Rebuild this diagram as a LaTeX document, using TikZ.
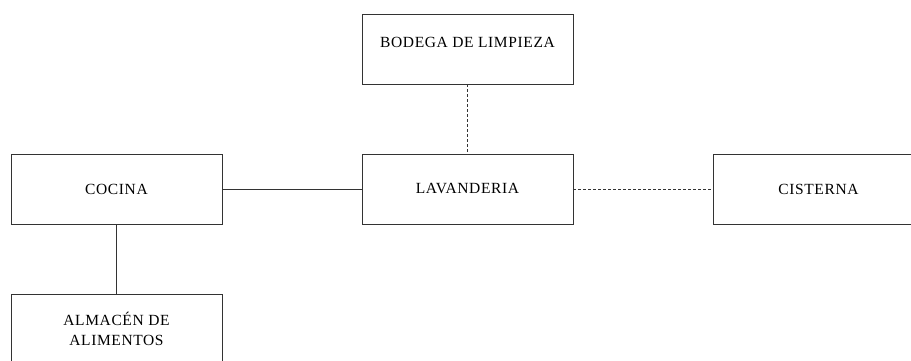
\documentclass[tikz,border=0pt]{standalone}
\usepackage{fontspec}
\setmainfont{Liberation Serif}[LetterSpace=4]
\begin{document}
\begin{tikzpicture}[x=1pt,y=1pt,
  box/.style={draw=black!80, line width=0.9pt, minimum width=211pt, minimum height=70pt, inner sep=0pt, font=\fontsize{15.5}{20}\selectfont, align=center},
  link/.style={draw=black!80, line width=0.9pt},
  dlink/.style={draw=black!80, line width=0.9pt, dash pattern=on 3pt off 2pt}]
\useasboundingbox (0,0) rectangle (911,361);
\node[box, text depth=14pt] (bodega) at (467.5,312) {BODEGA DE LIMPIEZA};
\node[box] (cocina) at (116.5,172) {COCINA};
\node[box] (lav) at (467.5,172) {LAVANDERIA};
\node[box] (cis) at (818.5,172) {CISTERNA};
\node[box] (alm) at (116.5,32) {ALMACÉN DE\\ALIMENTOS};
\draw[link] (cocina.east) -- (lav.west);
\draw[link] (cocina.south) -- (alm.north);
\draw[dlink] (bodega.south) -- (lav.north);
\draw[dlink] (lav.east) -- (cis.west);
\end{tikzpicture}
\end{document}
